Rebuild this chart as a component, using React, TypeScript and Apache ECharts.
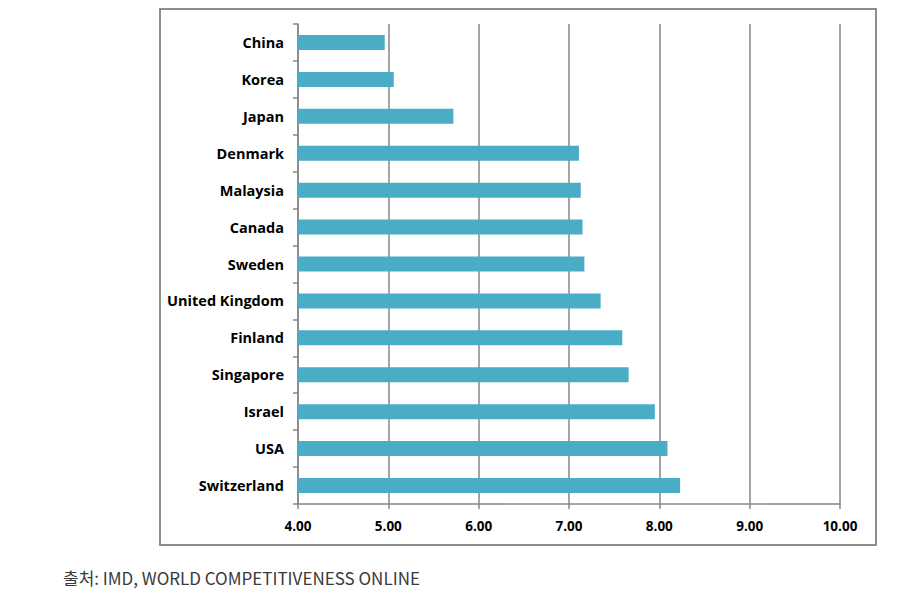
import React, { useEffect, useRef } from "react";
import * as echarts from "echarts";

const categories = [
  "China",
  "Korea",
  "Japan",
  "Denmark",
  "Malaysia",
  "Canada",
  "Sweden",
  "United Kingdom",
  "Finland",
  "Singapore",
  "Israel",
  "USA",
  "Switzerland",
];
const values = [4.96, 5.06, 5.72, 7.11, 7.13, 7.15, 7.17, 7.35, 7.59, 7.66, 7.95, 8.09, 8.23];
const sourceText = "출처: IMD, WORLD COMPETITIVENESS ONLINE";

export default function App() {
  const ref = useRef<HTMLDivElement>(null);
  useEffect(() => {
    document.body.style.margin = "0";
    const chart = echarts.init(ref.current!, null, { renderer: "svg" });
    const axisGray = "#878787";
    chart.setOption({
      animation: false,
      backgroundColor: "#ffffff",
      grid: { left: 298, right: 59, top: 24, bottom: 88, containLabel: false },
      xAxis: {
        type: "value",
        min: 4,
        max: 10,
        interval: 1,
        axisLine: { show: true, lineStyle: { color: axisGray, width: 1.5 } },
        axisTick: { show: true, length: 5, lineStyle: { color: axisGray, width: 1.5 } },
        splitLine: { show: true, lineStyle: { color: axisGray, width: 1.5 } },
        axisLabel: {
          formatter: (v: number) => v.toFixed(2),
          color: "#000",
          fontFamily: "Open Sans",
          fontWeight: "bold",
          fontSize: 13.5,
          margin: 15,
        },
      },
      yAxis: {
        type: "category",
        data: categories,
        inverse: true,
        axisLine: { show: true, lineStyle: { color: axisGray, width: 1.5 } },
        axisTick: { show: true, length: 5, lineStyle: { color: axisGray, width: 1.5 } },
        axisLabel: {
          color: "#000",
          fontFamily: "Open Sans",
          fontWeight: "bold",
          fontSize: 14.5,
          margin: 14,
        },
      },
      series: [
        {
          type: "bar",
          data: values,
          barWidth: 15,
          itemStyle: { color: "#4bacc6" },
        },
      ],
      graphic: [
        {
          type: "rect",
          shape: { x: 160, y: 9, width: 716, height: 536 },
          style: { fill: "none", stroke: "#8c8c8c", lineWidth: 2 },
          silent: true,
        },
        {
          type: "text",
          x: 63,
          y: 577,
          style: {
            text: sourceText,
            fill: "#3a3a3a",
            font: "17px 'Noto Sans CJK KR'",
            textVerticalAlign: "middle",
          },
        },
      ],
    });
    return () => chart.dispose();
  }, []);
  return <div ref={ref} style={{ position: "absolute", left: 0, top: 0, width: 899, height: 592 }} />;
}
